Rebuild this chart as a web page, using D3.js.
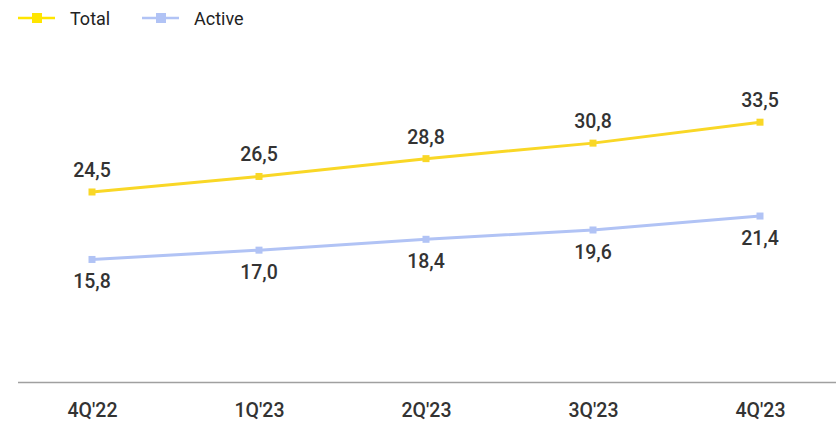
<!DOCTYPE html>
<html><head><meta charset="utf-8">
<script src="https://cdn.jsdelivr.net/npm/d3@7"></script>
<style>body{margin:0;background:#fff}svg{display:block}</style>
</head><body>
<script>
const categories = ["4Q'22","1Q'23","2Q'23","3Q'23","4Q'23"];
const totalValues = [24.5, 26.5, 28.8, 30.8, 33.5];
const activeValues = [15.8, 17.0, 18.4, 19.6, 21.4];
const seriesNames = ["Total", "Active"];

const W = 836, H = 426;
const svg = d3.select("body").append("svg").attr("width", W).attr("height", H);
const x = d3.scalePoint().domain(categories).range([92, 760]);
const y = d3.scaleLinear().domain([0, 45]).range([382, 33]);
const colors = {Total: "#F9D726", Active: "#B1C3F5"};
const legendColors = {Total: "#FFE500", Active: "#B1C3F5"};
const textColor = "#333333";

// axis
const xAxis = d3.axisBottom(x).tickSize(0).tickPadding(0);
const gAx = svg.append("g").attr("transform", "translate(0,382)").call(xAxis);
gAx.select(".domain").remove();
svg.append("line").attr("x1", 18).attr("x2", 836).attr("y1", 382.5).attr("y2", 382.5)
  .attr("stroke", "#a0a0a0").attr("stroke-width", 1.5);
gAx.selectAll("text").attr("dy", null).attr("y", 35)
  .attr("font-family", "Roboto, sans-serif").attr("font-weight", 500)
  .attr("font-size", 19.5).attr("fill", textColor);

const series = [
  {name: "Total", values: totalValues, labelDy: -15},
  {name: "Active", values: activeValues, labelDy: 29}
];
const line = d3.line().x((d, i) => x(categories[i])).y(d => y(d));
series.forEach(s => {
  const g = svg.append("g");
  g.append("path").datum(s.values).attr("d", line).attr("fill", "none")
    .attr("stroke", colors[s.name]).attr("stroke-width", 3);
  g.selectAll("rect").data(s.values).join("rect")
    .attr("x", (d, i) => x(categories[i]) - 3.5).attr("y", d => y(d) - 3.5)
    .attr("width", 7).attr("height", 7).attr("fill", colors[s.name]);
  g.selectAll("text").data(s.values).join("text")
    .attr("x", (d, i) => x(categories[i])).attr("y", d => y(d) + s.labelDy)
    .attr("text-anchor", "middle").attr("font-family", "Roboto, sans-serif")
    .attr("font-weight", 500)
    .attr("font-size", 19.5).attr("fill", textColor)
    .text(d => d3.format(".1f")(d).replace(".", ","));
});

// legend
const legend = svg.append("g");
const legX = [18, 142];
seriesNames.forEach((n, i) => {
  const lg = legend.append("g").attr("transform", `translate(${legX[i]},18)`);
  lg.append("line").attr("x1", 0).attr("x2", 37).attr("stroke", legendColors[n]).attr("stroke-width", 2.5);
  lg.append("rect").attr("x", 14).attr("y", -5).attr("width", 10).attr("height", 10).attr("fill", legendColors[n]);
  lg.append("text").attr("x", 52).attr("y", 7).attr("font-family", "Roboto, sans-serif")
    .attr("font-size", 18).attr("fill", "#222").text(n);
});
</script>
</body></html>
